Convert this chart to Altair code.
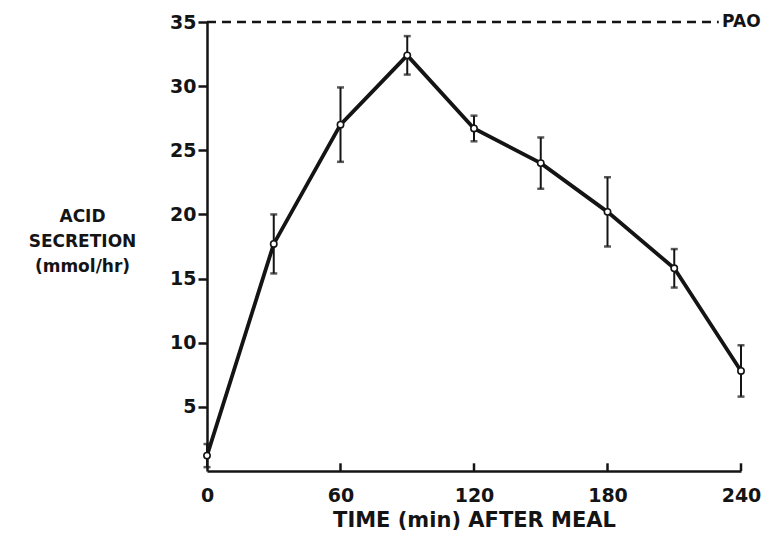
import altair as alt
import pandas as pd

# ---- data ----
times = [0, 30, 60, 90, 120, 150, 180, 210, 240]
acid = [1.2, 17.7, 27.0, 32.4, 26.7, 24.0, 20.2, 15.8, 7.8]
sem = [0.9, 2.3, 2.9, 1.5, 1.0, 2.0, 2.7, 1.5, 2.0]
x_tick_values = [0, 60, 120, 180, 240]
y_tick_values = [5, 10, 15, 20, 25, 30, 35]
inner_ticks = [60, 120, 180, 240]
pao_level = [35]
pao_end = [230]
pao_label = ["PAO"]

df = pd.DataFrame({"time": times, "acid": acid, "sem": sem})
df["lo"] = df["acid"] - df["sem"]
df["hi"] = df["acid"] + df["sem"]

ticks_df = pd.DataFrame({"time": inner_ticks, "y0": [0] * len(inner_ticks), "y1": [0.6] * len(inner_ticks)})
pao_df = pd.DataFrame({"x0": [0], "x1": pao_end, "y": pao_level, "label": pao_label, "xt": [pao_end[0] + 1.5]})

FONT = "DejaVu Sans"
INK = "#141414"

xscale = alt.Scale(domain=[0, 240], nice=False, zero=False)
yscale = alt.Scale(domain=[0, 35], nice=False)

x_enc = alt.X(
    "time:Q",
    scale=xscale,
    axis=alt.Axis(
        values=x_tick_values,
        title="TIME (min) AFTER MEAL",
        ticks=False,
        labelFlush=False,
        labelPadding=15,
        titlePadding=4,
        titleFontSize=21,
        grid=False,
    ),
)
y_enc = alt.Y(
    "acid:Q",
    scale=yscale,
    axis=alt.Axis(
        values=y_tick_values,
        title=["ACID", "SECRETION", "(mmol/hr)"],
        titleAngle=0,
        titleAlign="center",
        titleBaseline="top",
        titleX=-125,
        titleY=186,
        titleLineHeight=25,
        titleFontSize=17,
        tickSize=9,
        tickWidth=2.5,
        labelPadding=2,
        grid=False,
    ),
)

base = alt.Chart(df)

line = base.mark_line(color=INK, strokeWidth=3.8).encode(x=x_enc, y=y_enc)

bars = base.mark_rule(color=INK, strokeWidth=2).encode(
    x="time:Q", y=alt.Y("lo:Q", scale=yscale), y2="hi:Q"
)
cap_lo = base.mark_tick(color=INK, orient="horizontal", size=7, thickness=2.5).encode(
    x="time:Q", y=alt.Y("lo:Q", scale=yscale)
)
cap_hi = base.mark_tick(color=INK, orient="horizontal", size=7, thickness=2.5).encode(
    x="time:Q", y=alt.Y("hi:Q", scale=yscale)
)
pts = base.mark_point(
    shape="circle", filled=False, fill="white", fillOpacity=1, color=INK, size=40, strokeWidth=1.6
).encode(x="time:Q", y="acid:Q")

inner = alt.Chart(ticks_df).mark_rule(color=INK, strokeWidth=2.5).encode(
    x="time:Q", y=alt.Y("y0:Q", scale=yscale), y2="y1:Q"
)

pao_line = alt.Chart(pao_df).mark_rule(color=INK, strokeWidth=2.5, strokeDash=[9, 6]).encode(
    x=alt.X("x0:Q", scale=xscale), x2="x1:Q", y=alt.Y("y:Q", scale=yscale)
)
pao_text = alt.Chart(pao_df).mark_text(
    align="left", baseline="middle", font=FONT, fontSize=17, fontWeight="bold", color=INK
).encode(x=alt.X("xt:Q", scale=xscale), y=alt.Y("y:Q", scale=yscale), text="label:N")

chart = (
    alt.layer(line, bars, cap_lo, cap_hi, pts, inner, pao_line, pao_text)
    .properties(
        width=534,
        height=449,
        padding={"left": 207, "top": 22, "right": 30, "bottom": 64},
        autosize="none",
        background="white",
    )
    .configure_view(stroke=None)
    .configure_axis(
        domainColor=INK,
        domainWidth=2.5,
        tickColor=INK,
        labelFont=FONT,
        labelFontSize=19,
        labelFontWeight="bold",
        labelColor=INK,
        titleFont=FONT,
        titleFontWeight="bold",
        titleColor=INK,
    )
)

chart.save("out.html", embed_options={"renderer": "svg", "actions": False})
